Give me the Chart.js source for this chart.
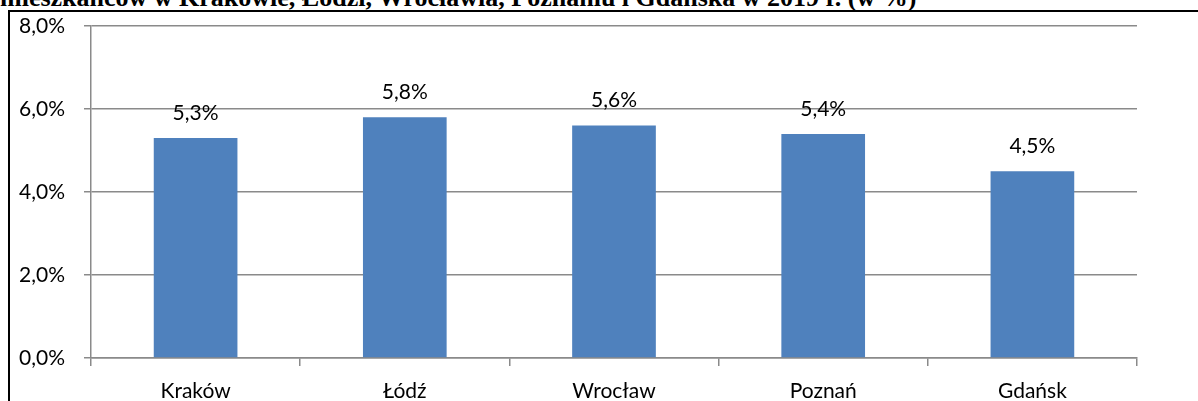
<!DOCTYPE html>
<html>
<head>
<meta charset="utf-8">
<script src="https://cdn.jsdelivr.net/npm/chart.js@4"></script>
<style>
  html, body { margin: 0; padding: 0; background: #fff; overflow: hidden; }
  body { width: 1198px; height: 401px; position: relative; }
  #tytul {
    position: absolute; left: 0; top: -15px; white-space: nowrap;
    font: bold 26px "Liberation Serif", "DejaVu Serif", serif; line-height: 26px; color: #000;
  }
  #ramka {
    position: absolute; left: 8px; top: 10px; right: 0; bottom: 0;
    border-top: 2px solid #000; border-left: 2px solid #000;
  }
  #wykres { position: absolute; left: 10px; top: 12px; width: 1188px; height: 389px; }
</style>
</head>
<body>
<div id="tytul">mieszkańców w Krakowie, Łodzi, Wrocławia, Poznaniu i Gdańska w 2019 r. (w %)</div>
<div id="ramka"></div>
<div id="wykres"><canvas id="canvas"></canvas></div>
<script>
const miasta = ['Kraków', 'Łódź', 'Wrocław', 'Poznań', 'Gdańsk'];
const wartosci = [5.3, 5.8, 5.6, 5.4, 4.5];
const osY = [0, 2, 4, 6, 8];

const formatuj = v => v.toFixed(1).replace('.', ',') + '%';
const czcionka = { family: 'Lato, "Noto Sans", sans-serif', size: 21 };

// etykiety nad słupkami
const etykiety = {
    id: 'etykiety',
    afterDatasetsDraw(chart) {
        const ctx = chart.ctx;
        const meta = chart.getDatasetMeta(0);
        ctx.save();
        ctx.font = `${czcionka.size}px ${czcionka.family}`;
        ctx.fillStyle = '#000';
        ctx.textAlign = 'center';
        ctx.textBaseline = 'middle';
        meta.data.forEach((bar, i) => {
            ctx.fillText(formatuj(wartosci[i]), bar.x, bar.y - 25);
        });
        ctx.restore();
    }
};

new Chart(document.getElementById('canvas'), {
    type: 'bar',
    data: {
        labels: miasta,
        datasets: [{
            data: wartosci,
            backgroundColor: '#4F81BD',
            borderWidth: 0,
            barPercentage: 0.4,
            categoryPercentage: 1
        }]
    },
    options: {
        responsive: true,
        maintainAspectRatio: false,
        animation: false,
        layout: { padding: { top: 14, right: 61, left: 0, bottom: 0 } },
        plugins: { legend: { display: false }, tooltip: { enabled: false } },
        scales: {
            x: {
                grid: { drawOnChartArea: false, offset: true, tickLength: 8, color: '#8a8a8a', lineWidth: 1.5 },
                border: { color: '#8a8a8a', width: 1.5 },
                ticks: { color: '#000', font: czcionka, padding: 13, maxRotation: 0 },
                afterFit: s => { s.height = 43; s.paddingLeft = 0; s.paddingRight = 0; }
            },
            y: {
                min: 0,
                max: 8,
                afterBuildTicks: s => { s.ticks = osY.map(v => ({ value: v })); },
                grid: { color: '#8a8a8a', lineWidth: 1.5, tickLength: 7 },
                border: { color: '#8a8a8a', width: 1.5 },
                ticks: { color: '#000', font: czcionka, padding: 19, callback: v => formatuj(v) },
                afterFit: s => { s.width = 81; s.paddingTop = 0; s.paddingBottom = 0; }
            }
        }
    },
    plugins: [etykiety]
});
</script>
</body>
</html>
